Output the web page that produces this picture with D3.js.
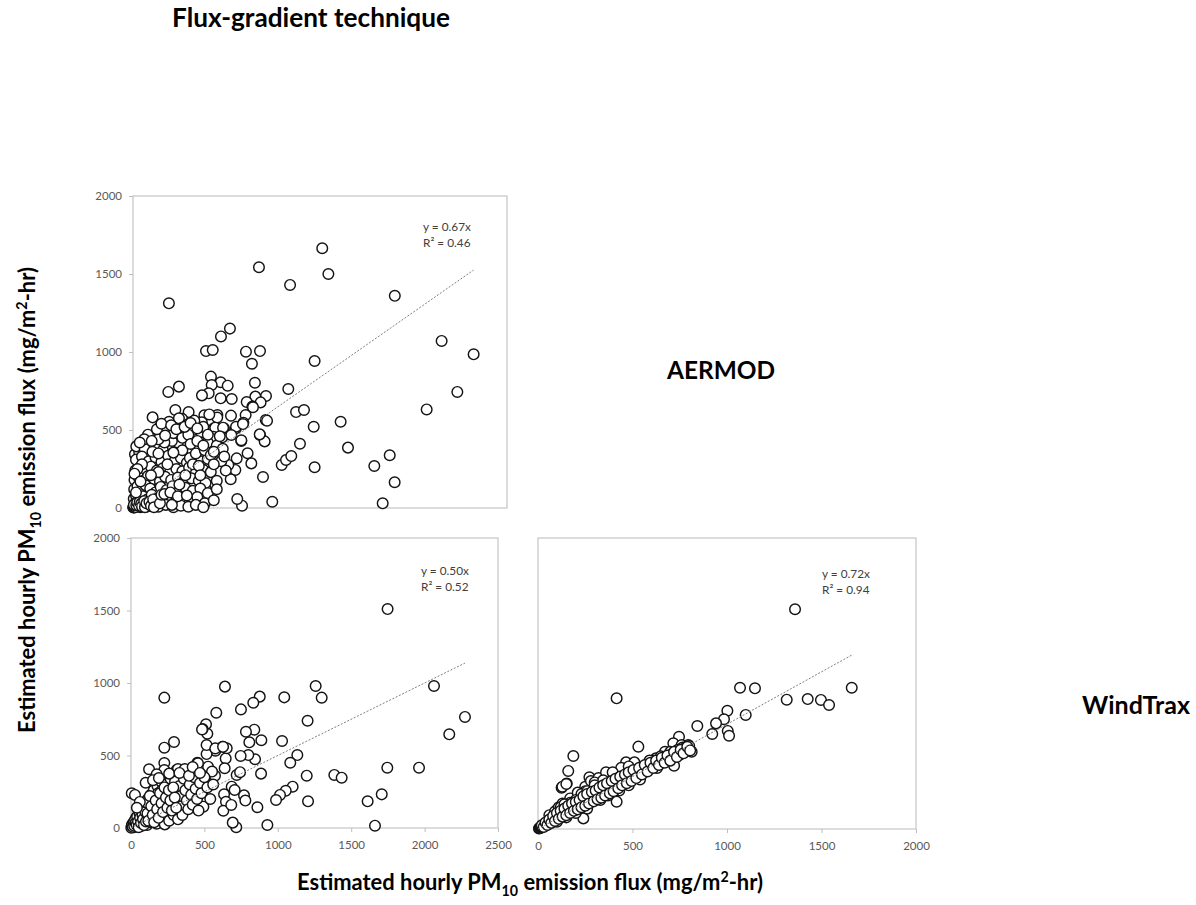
<!DOCTYPE html>
<html>
<head>
<meta charset="utf-8">
<script src="https://cdn.jsdelivr.net/npm/d3@7/dist/d3.min.js"></script>
<style>
  html, body { margin: 0; padding: 0; background: #ffffff; }
  svg { display: block; }
</style>
</head>
<body>
<script>
// Hourly PM10 emission flux (mg/m2-hr): pairwise comparison of three estimation methods.

// Flux-gradient technique (x) vs AERMOD (y)
const fgVsAermod = [
  [1265,1665],[842,1543],[1306,1500],[1050,1430],[1750,1360],[240,1312],[648,1150],[588,1100],
  [488,1006],[533,1013],[755,1002],[849,1006],[795,925],[1214,942],[2063,1071],[2277,985],
  [2168,744],[1963,632],[1038,763],[1090,615],[1143,628],[1388,553],[1208,521],[1437,387],
  [1116,412],[994,276],[1023,308],[1058,333],[1214,261],[1613,269],[1716,338],[1749,165],
  [1669,30],[931,40],[869,199],[729,15],[697,58],[889,718],[887,564],[849,468],[880,427],
  [815,803],[818,714],[853,677],[760,679],[798,650],[753,596],[738,547],[688,511],[724,430],
  [766,351],[791,286],[693,318],[684,244],[653,184],[637,276],[521,842],[586,806],[633,784],
  [526,788],[506,735],[461,722],[586,703],[660,699],[236,744],[307,778],[564,596],[563,580],
  [477,594],[655,592],[541,511],[608,511],[283,628],[372,615],[131,581],[328,572],[180,521],
  [13,344],[42,355],[109,402],[802,646],[241,553],[307,575],[368,537],[252,489],[323,511],
  [550,515],[602,515],[689,521],[735,538],[537,457],[597,453],[657,468],[847,472],[724,434],
  [550,147],[896,560],
  [100,470],[178,455],[234,478],[290,440],[356,465],[412,445],[457,480],[535,440],
  [22,395],[78,380],[145,400],[200,370],[267,390],[323,405],[390,375],[445,395],[512,380],[568,360],
  [20,310],[60,330],[105,300],[150,325],[190,295],[235,335],[280,305],[320,320],[360,290],[410,330],
  [455,300],[500,315],[590,300],
  [15,240],[45,260],[85,230],[120,265],[160,240],[200,255],[245,225],[290,250],[330,235],[375,260],
  [420,225],[470,245],[520,230],
  [10,180],[35,200],[70,175],[100,205],[140,185],[180,170],[215,200],[255,180],[300,195],[340,170],
  [390,190],[440,175],[485,160],[560,175],
  [8,120],[30,140],[55,110],[85,145],[115,125],[150,100],[185,135],[225,115],[265,140],[305,105],
  [350,130],[400,110],[450,125],[500,95],[560,120],
  [5,60],[20,80],[40,50],[65,75],[95,55],[125,85],[160,60],[200,45],[240,70],[280,35],[330,60],
  [380,40],[430,70],[480,30],[540,50],
  [2,5],[8,15],[15,30],[25,10],[35,25],[50,5],[70,20],[95,10],[130,25],[170,8],[220,20],[270,5],
  [320,15],[370,8],[420,20],[470,5],
  [3,3],[5,8],[10,4],[12,12],[18,6],[6,20],[22,18],[28,35],[40,15],[45,40],[55,28],[60,10],
  [75,45],[80,5],[90,30],[110,40],[120,15],[135,55],[140,5],[180,30],[190,85],[210,90],[250,100],
  [260,20],[300,75],[310,150],[350,210],[360,80],[380,320],[400,280],[420,350],[440,270],[460,420],
  [480,370],[500,420],[520,340],[540,280],[560,400],[580,460],[600,380],[620,240],[610,330],
  [450,210],[300,420],[260,430],[210,420],[170,440],[130,360],[60,280],[30,250],[10,220],[50,170],
  [20,100],[230,280],[170,230],[120,210],[330,370],[270,480],[210,510],[170,350],[330,450],
  [400,500],[460,550],[510,600],[410,560],[370,470],[470,520],
  [160,505],[190,540],[255,530],[290,505],[345,520],[385,545],[430,510],[75,440],[45,420],
  [125,430],[215,465],[270,355],[385,410],[430,430],[470,400],[500,470],[540,360]
];

// Flux-gradient technique (x) vs WindTrax (y)
const fgVsWindtrax = [
  [1748,1510],[227,899],[640,975],[1258,979],[1299,899],[1044,901],[877,906],[833,864],[749,818],
  [581,795],[2064,979],[2275,766],[2168,646],[1203,740],[1029,600],[1133,503],[1085,450],[1197,361],
  [1385,366],[1435,347],[1746,416],[1962,416],[1708,232],[1612,184],[1662,16],[1206,184],[1101,285],
  [1054,257],[1015,228],[988,193],[929,21],[717,5],[693,37],[861,143],[886,375],[888,605],[840,678],
  [806,591],[783,664],[845,474],[799,503],[747,497],[720,366],[743,385],[770,225],[779,189],
  [686,285],[706,262],[645,480],[652,550],[624,561],[575,533],[511,715],[520,650],[488,683],
  [515,510],[515,572],[227,554],[293,593],[227,448],[227,400],[452,450],[123,405],[175,370],
  [5,239],[27,228],[100,312],[311,400],[356,388],[379,366],[550,388],[572,361],[493,147],[634,232],
  [647,181],[629,119],[683,159],[447,297],[493,262],[470,320],[484,680],[525,423],[552,389],
  [638,412],[456,446],[574,549],[627,560],[320,407],[366,407],
  [10,10],[15,30],[20,5],[25,50],[30,20],[35,70],[40,40],[45,10],[50,90],[55,60],[60,30],[65,120],
  [70,80],[75,15],[80,150],[85,100],[90,50],[95,180],[100,130],[105,70],[110,20],[115,200],[120,160],
  [125,95],[130,40],[135,230],[140,185],[145,120],[150,60],[155,260],[160,210],[165,150],[170,90],
  [175,30],[180,290],[185,240],[190,180],[195,120],[200,60],[205,320],[210,260],[215,200],[220,140],
  [225,80],[230,25],[240,300],[245,230],[250,170],[255,110],[260,50],[270,340],[275,270],[280,210],
  [285,150],[290,90],[300,320],[305,250],[310,180],[315,120],[320,60],[330,290],[340,220],[345,150],
  [350,90],[360,340],[370,260],[380,190],[390,130],[400,300],[410,230],[420,160],[430,350],[440,270],
  [450,200],[460,120],[470,310],[480,240],[500,350],[520,280],[540,200],[560,300],
  [2,2],[5,15],[8,25],[12,8],[18,40],[22,15],[28,55],[32,35],[38,20],[42,80],[48,45],[52,5],
  [58,100],[62,70],[68,35],[72,140],[78,90],[82,60],[88,20],[92,165],[98,110],[102,45],[108,175],
  [112,100],[118,50],[128,220],[138,150],[148,90],[158,40],[168,190],[178,130],[188,70],[198,240],
  [208,170],[218,110],[228,280],[238,210],[248,140],[258,260],[268,190],[278,120],[288,280],
  [298,210],[308,140],
  [150,330],[190,345],[260,375],[330,380],[395,360],[420,420],[470,380],[60,180],[40,140]
];

// AERMOD (x) vs WindTrax (y)
const aermodVsWindtrax = [
  [1360,1510],[416,898],[1069,971],[1148,967],[1316,889],[1427,893],[1497,887],[1540,852],
  [1660,971],[1099,784],[1002,813],[984,754],[942,726],[922,653],[1004,674],[1011,641],[843,708],
  [746,634],[716,589],[760,577],[795,577],[813,531],[778,538],[720,435],[698,509],[672,531],
  [624,486],[531,566],[466,458],[510,458],[187,502],[160,399],[152,312],[125,284],[129,291],
  [150,309],[272,355],[416,188],[369,355],[407,366],[99,131],[240,73],
  [60,95],[90,120],[110,150],[130,175],[170,210],[210,250],[250,290],[280,330],[320,350],
  [360,390],[440,420],[480,430],[330,200],[370,230],[430,265],[480,300],[540,340],[260,140],
  [200,110],[150,80],[100,50],[300,320],[345,335],[395,390],[250,260],[170,180],[565,395],
  [610,470],[650,500],[700,530],[590,470],[630,420],
  [5,3],[8,6],[12,9],[15,8],[18,14],[22,15],[25,18],[28,22],[32,24],[35,28],[38,26],[42,32],
  [45,30],[48,38],[52,36],[55,42],[60,40],[62,50],[66,46],[70,52],[74,58],[78,55],[82,64],[86,60],
  [90,70],[95,66],[100,78],[105,74],[110,86],[115,80],[120,95],[125,88],[130,100],[135,96],
  [140,110],[145,104],[150,118],[155,112],[160,126],[165,120],[170,136],[175,128],[180,145],
  [185,135],[190,155],[195,142],[200,165],[205,150],[210,175],[215,158],[220,185],[225,165],
  [230,195],[235,172],[240,205],[245,180],[250,215],[255,190],[260,225],[265,198],[270,235],
  [275,205],[280,245],[285,212],[290,255],[295,220],[300,262],[310,228],[315,270],[320,240],
  [330,280],[335,250],[340,290],[350,265],[355,300],[360,275],[370,310],[375,285],[385,320],
  [390,295],[400,330],[405,305],[415,340],[420,315],[430,350],[440,330],[450,360],[455,340],
  [465,370],[475,355],[485,380],[490,365],[500,395],[510,375],[520,400],[530,390],[545,410],
  [555,400],[570,420],[585,430],[600,445],[615,440],[630,460],[650,465],[660,480],[675,470],
  [690,500],[700,490],[710,515],[730,520],[740,545],[750,510],[765,560],[775,555],[785,540],
  [800,570],[120,150],[140,170],[200,200],[230,240],[260,260],[300,300],
  [20,25],[30,14],[40,45],[50,28],[60,65],[70,42],[80,90],[90,55],[100,110],[110,70],[120,125],
  [130,85],[140,140],[150,95],[160,160],[170,110],[180,175],[190,125],[200,185],[210,135],
  [220,200],[230,150],[240,225],[250,160],[260,240],[270,175],[285,255],[295,190],[305,265],
  [315,205],[325,285],[335,215],[345,300],[355,230],[365,315],[380,245],[390,330],[400,260],
  [410,345],[425,280],[435,360],[445,300],[460,375],[470,315],[480,390],[495,330],[505,405],
  [520,350],[535,420],[550,375],[565,440],[580,395],[595,455],[610,420],[625,470],[640,440],
  [655,490],[670,455],[685,505],[700,470],[720,530],[735,495],[755,545],[770,520],[790,565],
  [805,540]
];

// Fitted zero-intercept regressions (y = a·x) and their R²
const fitSlopes = [0.67, 0.50, 0.72];
const rSquared = [0.46, 0.52, 0.94];

// Axis tick values
const fluxTicks = [0, 500, 1000, 1500, 2000];
const fgAxisTicks = [0, 500, 1000, 1500, 2000, 2500];
const aermodAxisTicks = [0, 500, 1000, 1500, 2000];

const W = 1196, H = 905;
const FONT = "Lato, 'Open Sans', 'DejaVu Sans', sans-serif";

const svg = d3.select("body").append("svg")
  .attr("width", W).attr("height", H)
  .attr("font-family", FONT);

svg.append("rect").attr("width", W).attr("height", H).attr("fill", "#ffffff");

const panels = [
  { pts: fgVsAermod, slope: fitSlopes[0], r2: rSquared[0],
    x: d3.scaleLinear([0, 2500], [133, 507]), y: d3.scaleLinear([0, 2000], [508, 196]),
    xTicks: fgAxisTicks, xAxis: false, yAxis: true, eq: [423, 231] },
  { pts: fgVsWindtrax, slope: fitSlopes[1], r2: rSquared[1],
    x: d3.scaleLinear([0, 2500], [131, 498]), y: d3.scaleLinear([0, 2000], [828, 538]),
    xTicks: fgAxisTicks, xAxis: true, yAxis: true, eq: [421, 575] },
  { pts: aermodVsWindtrax, slope: fitSlopes[2], r2: rSquared[2],
    x: d3.scaleLinear([0, 2000], [538, 916]), y: d3.scaleLinear([0, 2000], [829, 538]),
    xTicks: aermodAxisTicks, xAxis: true, yAxis: false, eq: [822, 578] }
];

const fmt = d3.format("d");

panels.forEach(p => {
  const g = svg.append("g");
  const [x0, x1] = p.x.range();
  const [y0, y1] = p.y.range();

  // plot-area frame
  g.append("rect")
    .attr("x", x0).attr("y", y1)
    .attr("width", x1 - x0).attr("height", y0 - y1)
    .attr("fill", "none").attr("stroke", "#c9c9c9").attr("stroke-width", 1.3);

  if (p.yAxis) {
    const ay = g.append("g").attr("transform", `translate(${x0},0)`)
      .call(d3.axisLeft(p.y).tickValues(fluxTicks).tickFormat(fmt).tickSize(4).tickPadding(7));
    ay.select(".domain").remove();
    ay.selectAll(".tick line").attr("stroke", "#bfbfbf");
    ay.selectAll(".tick text").attr("fill", "#595959")
      .attr("font-size", 11.5).attr("font-family", FONT);
  }
  if (p.xAxis) {
    const ax = g.append("g").attr("transform", `translate(0,${y0})`)
      .call(d3.axisBottom(p.x).tickValues(p.xTicks).tickFormat(fmt).tickSize(4).tickPadding(9));
    ax.select(".domain").remove();
    ax.selectAll(".tick line").attr("stroke", "#bfbfbf");
    ax.selectAll(".tick text").attr("fill", "#595959")
      .attr("font-size", 11.5).attr("font-family", FONT);
  }

  // data markers
  g.append("g").selectAll("circle")
    .data(p.pts)
    .join("circle")
    .attr("cx", d => p.x(d[0]))
    .attr("cy", d => p.y(d[1]))
    .attr("r", 5.3)
    .attr("fill", "#ffffff")
    .attr("stroke", "#141414")
    .attr("stroke-width", 1.45);

  // regression line through the origin, out to the largest x value
  const xMax = d3.max(p.pts, d => d[0]);
  g.append("path")
    .datum([[0, 0], [xMax, p.slope * xMax]])
    .attr("d", d3.line().x(d => p.x(d[0])).y(d => p.y(d[1])))
    .attr("fill", "none")
    .attr("stroke", "#7f7f7f")
    .attr("stroke-width", 1)
    .attr("stroke-dasharray", "2,1.6");

  // equation and R²
  const eq = g.append("g").attr("font-size", 11.8).attr("fill", "#404040");
  eq.append("text").attr("x", p.eq[0]).attr("y", p.eq[1])
    .text(`y = ${p.slope.toFixed(2)}x`);
  eq.append("text").attr("x", p.eq[0]).attr("y", p.eq[1] + 16)
    .text(`R\u00B2 = ${p.r2.toFixed(2)}`);
});

// scale a label's font size so that it spans the given width
function fitWidth(sel, width) {
  const len = sel.node().getComputedTextLength();
  const fs = parseFloat(sel.attr("font-size"));
  sel.attr("font-size", fs * width / len);
  return sel;
}

// method labels
const methodLabels = [
  { text: "Flux-gradient technique", cx: 311, y: 27, w: 278 },
  { text: "AERMOD", cx: 721, y: 379, w: 108 },
  { text: "WindTrax", cx: 1136, y: 714, w: 108 }
];
methodLabels.forEach(m => {
  const t = svg.append("text")
    .attr("x", m.cx).attr("y", m.y)
    .attr("text-anchor", "middle")
    .attr("font-weight", "bold")
    .attr("font-size", 22)
    .attr("fill", "#000000")
    .text(m.text);
  fitWidth(t, m.w);
});

// axis titles with PM10 subscript and m² superscript
function axisTitle(sel) {
  sel.attr("font-weight", "bold").attr("font-size", 22).attr("fill", "#000000")
    .attr("text-anchor", "middle");
  sel.append("tspan").text("Estimated hourly PM");
  sel.append("tspan").attr("font-size", "65%").attr("dy", "0.45em").text("10");
  sel.append("tspan").attr("dy", "-0.3em").text(" emission flux (mg/m");
  sel.append("tspan").attr("font-size", "65%").attr("dy", "-0.55em").text("2");
  sel.append("tspan").attr("dy", "0.36em").text("-hr)");
  return sel;
}

const xTitle = axisTitle(svg.append("text").attr("x", 530).attr("y", 890));
fitWidth(xTitle, 466);

const yTitle = axisTitle(svg.append("text")
  .attr("transform", "translate(35,500) rotate(-90)"));
fitWidth(yTitle, 466);
</script>
</body>
</html>
